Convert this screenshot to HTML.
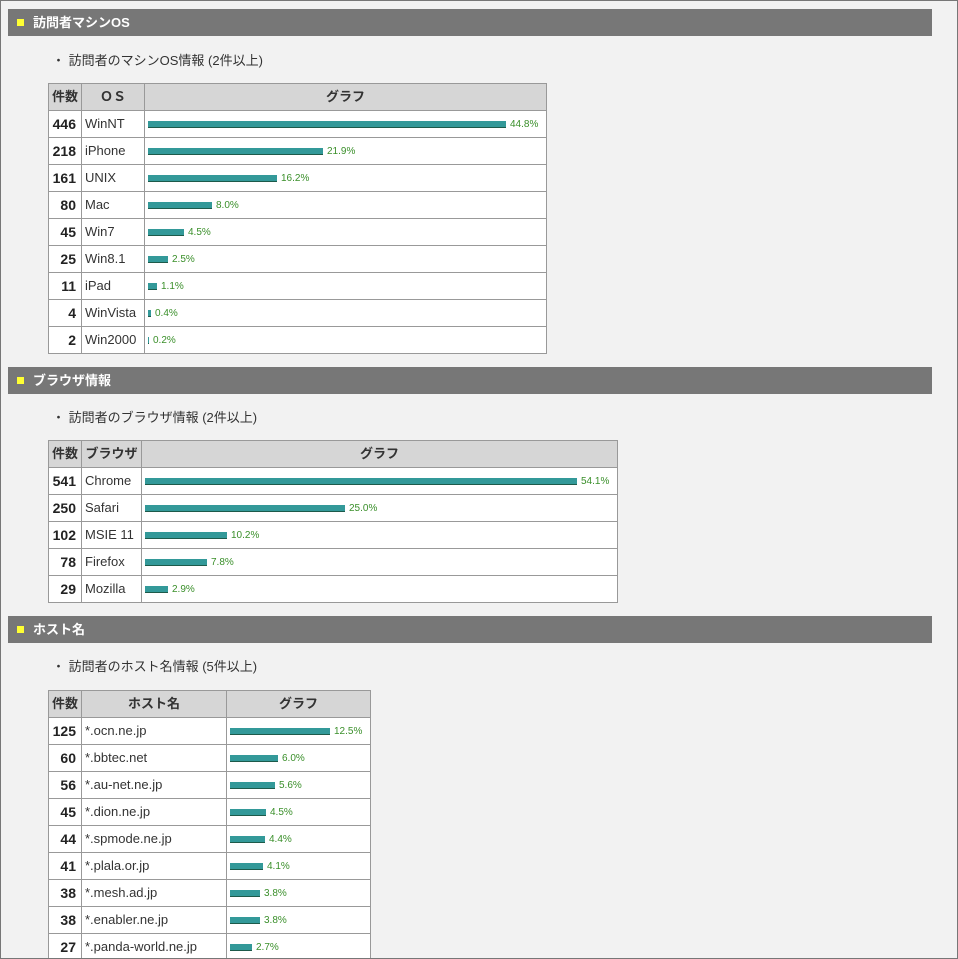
<!DOCTYPE html><html style="overflow:hidden;height:959px"><head><meta charset="utf-8"><style>
html,body{overflow:hidden}
body{margin:0;width:958px;height:959px;background:#f2f2f2;font-family:"Liberation Sans","Noto Sans CJK JP",sans-serif;color:#333;position:relative}
.frame{position:absolute;left:0;top:0;width:956px;height:957px;border:1px solid #777;z-index:5;pointer-events:none}
.hd{position:absolute;left:8px;width:924px;height:27px;background:#777;color:#fff;font-weight:bold;font-size:13px;line-height:27px}
.hd i{position:absolute;left:9px;top:10px;width:7px;height:7px;background:#ff3}
.hd span{position:absolute;left:25px}
.sub{position:absolute;left:52px;font-size:13px;color:#333}
table{position:absolute;left:48px;border-collapse:collapse;background:#fff;font-size:13px;table-layout:fixed}
td,th{border:1px solid #999;height:26px;padding:0;line-height:16px;vertical-align:middle;box-sizing:border-box}
tr{height:27px}
th{background:#d6d6d6;font-weight:bold;font-size:13px;text-align:center}
td.n{text-align:right;font-weight:bold;font-size:14px;padding-right:5px;color:#222}
td.t{padding-left:3px}
td.g{padding-left:3px;white-space:nowrap;line-height:10px}
b.bar{display:inline-block;height:6px;background:#339999;border-bottom:1px solid #1d5a4a;vertical-align:middle;margin-right:4px}
em{font-style:normal;font-size:10px;color:#3a8f2a;vertical-align:middle;line-height:10px;position:relative;top:1px}
</style></head><body><div class="frame"></div>
<div class="hd" style="top:9px"><i></i><span>訪問者マシンOS</span></div>
<div class="sub" style="top:50px">・ 訪問者のマシンOS情報 (2件以上)</div>
<table style="top:83px"><colgroup><col style="width:33px"><col style="width:63px"><col style="width:402px"></colgroup>
<tr><th>件数</th><th>ＯＳ</th><th>グラフ</th></tr>
<tr><td class="n">446</td><td class="t">WinNT</td><td class="g"><b class="bar" style="width:358px"></b><em>44.8%</em></td></tr>
<tr><td class="n">218</td><td class="t">iPhone</td><td class="g"><b class="bar" style="width:175px"></b><em>21.9%</em></td></tr>
<tr><td class="n">161</td><td class="t">UNIX</td><td class="g"><b class="bar" style="width:129px"></b><em>16.2%</em></td></tr>
<tr><td class="n">80</td><td class="t">Mac</td><td class="g"><b class="bar" style="width:64px"></b><em>8.0%</em></td></tr>
<tr><td class="n">45</td><td class="t">Win7</td><td class="g"><b class="bar" style="width:36px"></b><em>4.5%</em></td></tr>
<tr><td class="n">25</td><td class="t">Win8.1</td><td class="g"><b class="bar" style="width:20px"></b><em>2.5%</em></td></tr>
<tr><td class="n">11</td><td class="t">iPad</td><td class="g"><b class="bar" style="width:9px"></b><em>1.1%</em></td></tr>
<tr><td class="n">4</td><td class="t">WinVista</td><td class="g"><b class="bar" style="width:3px"></b><em>0.4%</em></td></tr>
<tr><td class="n">2</td><td class="t">Win2000</td><td class="g"><b class="bar" style="width:1px"></b><em>0.2%</em></td></tr>
</table>
<div class="hd" style="top:367px"><i></i><span>ブラウザ情報</span></div>
<div class="sub" style="top:407px">・ 訪問者のブラウザ情報 (2件以上)</div>
<table style="top:440px"><colgroup><col style="width:33px"><col style="width:60px"><col style="width:476px"></colgroup>
<tr><th>件数</th><th>ブラウザ</th><th>グラフ</th></tr>
<tr><td class="n">541</td><td class="t">Chrome</td><td class="g"><b class="bar" style="width:432px"></b><em>54.1%</em></td></tr>
<tr><td class="n">250</td><td class="t">Safari</td><td class="g"><b class="bar" style="width:200px"></b><em>25.0%</em></td></tr>
<tr><td class="n">102</td><td class="t">MSIE 11</td><td class="g"><b class="bar" style="width:82px"></b><em>10.2%</em></td></tr>
<tr><td class="n">78</td><td class="t">Firefox</td><td class="g"><b class="bar" style="width:62px"></b><em>7.8%</em></td></tr>
<tr><td class="n">29</td><td class="t">Mozilla</td><td class="g"><b class="bar" style="width:23px"></b><em>2.9%</em></td></tr>
</table>
<div class="hd" style="top:616px"><i></i><span>ホスト名</span></div>
<div class="sub" style="top:656px">・ 訪問者のホスト名情報 (5件以上)</div>
<table style="top:690px"><colgroup><col style="width:33px"><col style="width:145px"><col style="width:144px"></colgroup>
<tr><th>件数</th><th>ホスト名</th><th>グラフ</th></tr>
<tr><td class="n">125</td><td class="t">*.ocn.ne.jp</td><td class="g"><b class="bar" style="width:100px"></b><em>12.5%</em></td></tr>
<tr><td class="n">60</td><td class="t">*.bbtec.net</td><td class="g"><b class="bar" style="width:48px"></b><em>6.0%</em></td></tr>
<tr><td class="n">56</td><td class="t">*.au-net.ne.jp</td><td class="g"><b class="bar" style="width:45px"></b><em>5.6%</em></td></tr>
<tr><td class="n">45</td><td class="t">*.dion.ne.jp</td><td class="g"><b class="bar" style="width:36px"></b><em>4.5%</em></td></tr>
<tr><td class="n">44</td><td class="t">*.spmode.ne.jp</td><td class="g"><b class="bar" style="width:35px"></b><em>4.4%</em></td></tr>
<tr><td class="n">41</td><td class="t">*.plala.or.jp</td><td class="g"><b class="bar" style="width:33px"></b><em>4.1%</em></td></tr>
<tr><td class="n">38</td><td class="t">*.mesh.ad.jp</td><td class="g"><b class="bar" style="width:30px"></b><em>3.8%</em></td></tr>
<tr><td class="n">38</td><td class="t">*.enabler.ne.jp</td><td class="g"><b class="bar" style="width:30px"></b><em>3.8%</em></td></tr>
<tr><td class="n">27</td><td class="t">*.panda-world.ne.jp</td><td class="g"><b class="bar" style="width:22px"></b><em>2.7%</em></td></tr>
</table>
</body></html>
